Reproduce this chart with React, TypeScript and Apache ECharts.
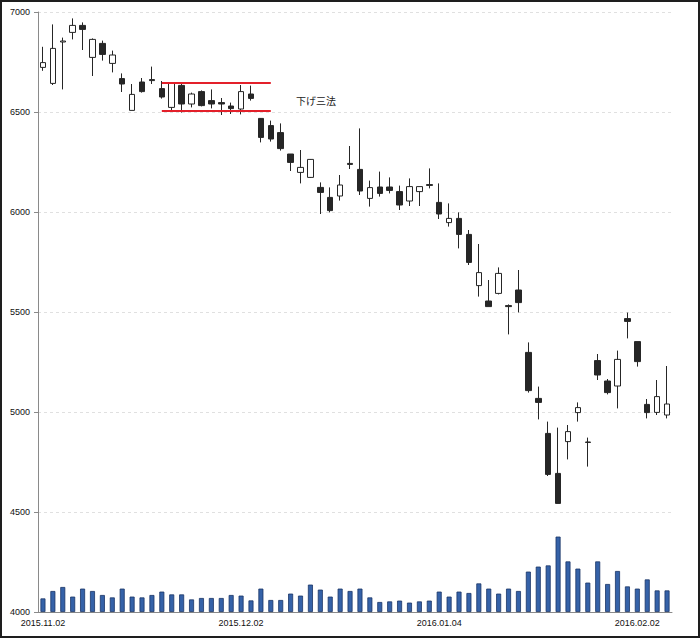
import React, { useEffect, useRef } from "react";
import * as echarts from "echarts";

const dates = [
  "2015.11.02", "2015.11.04", "2015.11.05", "2015.11.06", "2015.11.09", "2015.11.10", "2015.11.11", "2015.11.12", "2015.11.13", "2015.11.16",
  "2015.11.17", "2015.11.18", "2015.11.19", "2015.11.20", "2015.11.24", "2015.11.25", "2015.11.26", "2015.11.27", "2015.11.30", "2015.12.01",
  "2015.12.02", "2015.12.03", "2015.12.04", "2015.12.07", "2015.12.08", "2015.12.09", "2015.12.10", "2015.12.11", "2015.12.14", "2015.12.15",
  "2015.12.16", "2015.12.17", "2015.12.18", "2015.12.21", "2015.12.22", "2015.12.24", "2015.12.25", "2015.12.28", "2015.12.29", "2015.12.30",
  "2016.01.04", "2016.01.05", "2016.01.06", "2016.01.07", "2016.01.08", "2016.01.12", "2016.01.13", "2016.01.14", "2016.01.15", "2016.01.18",
  "2016.01.19", "2016.01.20", "2016.01.21", "2016.01.22", "2016.01.25", "2016.01.26", "2016.01.27", "2016.01.28", "2016.01.29", "2016.02.01",
  "2016.02.02", "2016.02.03", "2016.02.04", "2016.02.05",
];

const opens = [
  6723, 6643, 6850, 6898, 6933, 6773, 6843, 6743, 6667, 6508,
  6650, 6662, 6617, 6523, 6633, 6540, 6602, 6557, 6547, 6530,
  6515, 6590, 6468, 6432, 6397, 6290, 6198, 6173, 6123, 6073,
  6080, 6243, 6213, 6068, 6125, 6125, 6102, 6055, 6102, 6137,
  6048, 5947, 5968, 5888, 5632, 5555, 5593, 5532, 5610, 5298,
  5068, 4893, 4693, 4852, 4997, 4850, 5257, 5155, 5130, 5467,
  5352, 5038, 4998, 4985,
];
const closes = [
  6747, 6818, 6855, 6933, 6913, 6863, 6788, 6785, 6640, 6588,
  6602, 6657, 6575, 6643, 6540, 6590, 6532, 6540, 6540, 6517,
  6602, 6568, 6373, 6365, 6317, 6248, 6223, 6263, 6098, 6007,
  6135, 6238, 6105, 6122, 6093, 6108, 6035, 6127, 6127, 6133,
  5990, 5968, 5888, 5748, 5697, 5527, 5693, 5527, 5547, 5107,
  5048, 4688, 4543, 4902, 5022, 4848, 5185, 5097, 5263, 5453,
  5252, 4997, 5077, 5040,
];
const lows = [
  6706, 6635, 6613, 6863, 6810, 6680, 6757, 6698, 6600, 6508,
  6597, 6640, 6567, 6510, 6497, 6523, 6528, 6518, 6485, 6490,
  6488, 6557, 6348, 6352, 6307, 6205, 6143, 6170, 5990, 5998,
  6057, 6215, 6085, 6027, 6077, 6093, 6010, 6030, 6030, 6118,
  5965, 5927, 5818, 5735, 5577, 5527, 5588, 5388, 5498, 5097,
  4963, 4680, 4543, 4763, 4952, 4727, 5160, 5088, 5018, 5368,
  5227, 4968, 4985, 4968,
];
const highs = [
  6826, 6938, 6872, 6968, 6948, 6868, 6857, 6807, 6693, 6640,
  6670, 6727, 6655, 6650, 6645, 6597, 6608, 6613, 6570, 6547,
  6635, 6632, 6470, 6457, 6443, 6290, 6310, 6265, 6148, 6123,
  6185, 6330, 6418, 6157, 6202, 6173, 6132, 6168, 6127, 6218,
  6143, 6043, 5998, 5910, 5840, 5660, 5723, 5538, 5710, 5348,
  5127, 4952, 4922, 4935, 5048, 4872, 5290, 5165, 5307, 5497,
  5352, 5065, 5160, 5230,
];
const volumes = [
  68, 105, 125, 77, 117, 105, 85, 73, 117, 77,
  73, 85, 102, 88, 88, 63, 70, 70, 70, 85,
  82, 58, 117, 60, 60, 92, 82, 137, 112, 77,
  117, 105, 117, 73, 50, 53, 57, 47, 53, 57,
  102, 77, 102, 95, 143, 117, 92, 117, 105, 202,
  227, 233, 377, 253, 217, 147, 253, 140, 205, 128,
  117, 163, 108, 108,
];

const priceTicks = { min: 4000, max: 7000, interval: 500 };
const patternLabel = "下げ三法";
const patternTop = 6645;
const patternBottom = 6507;
const patternStart = 12;
const patternEnd = 23;

export default function App() {
  const ref = useRef<HTMLDivElement>(null);
  useEffect(() => {
    if (!ref.current) return;
    const chart = echarts.init(ref.current, null, { renderer: "svg" });
    const candleData = opens.map((o, i) => [o, closes[i], lows[i], highs[i]]);
    const redLine = { color: "#e3202a", width: 2, type: "solid" as const };
    chart.setOption({
      animation: false,
      backgroundColor: "#fff",
      grid: { left: 38, top: 12, width: 634, height: 600 },
      xAxis: {
        type: "category",
        data: dates,
        boundaryGap: true,
        axisLine: { lineStyle: { color: "#8a8a8a", width: 1 } },
        axisTick: { interval: 9, length: 4, lineStyle: { color: "#8a8a8a" } },
        axisLabel: {
          interval: 19,
          color: "#111",
          fontSize: 9,
          fontFamily: "Liberation Sans, Arial, sans-serif",
          margin: 6,
        },
        splitLine: { show: false },
      },
      yAxis: [
        {
          type: "value",
          min: priceTicks.min,
          max: priceTicks.max,
          interval: priceTicks.interval,
          axisLine: { show: true, lineStyle: { color: "#8a8a8a", width: 1 } },
          axisTick: { show: true, length: 4, lineStyle: { color: "#8a8a8a" } },
          axisLabel: {
            color: "#111",
            fontSize: 9,
            fontFamily: "Liberation Sans, Arial, sans-serif",
            margin: 8,
            formatter: (v: number) => String(v),
          },
          splitLine: { show: true, lineStyle: { color: "#e0e0e0", type: [3, 3], width: 1 } },
        },
        {
          type: "value",
          min: 0,
          max: 3000,
          show: false,
          splitLine: { show: false },
        },
      ],
      series: [
        {
          type: "bar",
          yAxisIndex: 1,
          data: volumes,
          barWidth: 5,
          itemStyle: { color: "#3562a8", borderColor: "#1b3566", borderWidth: 0.8 },
          z: 1,
        },
        {
          type: "candlestick",
          yAxisIndex: 0,
          data: candleData,
          barWidth: 6,
          itemStyle: {
            color: "#ffffff",
            color0: "#262626",
            borderColor: "#262626",
            borderColor0: "#262626",
            borderWidth: 1,
          },
          z: 3,
          markLine: {
            symbol: ["none", "none"],
            silent: true,
            label: { show: false },
            lineStyle: redLine,
            data: [
              [
                { coord: [patternStart, patternTop] },
                { coord: [patternEnd, patternTop] },
              ],
              [
                { coord: [patternStart, patternBottom] },
                { coord: [patternEnd, patternBottom] },
              ],
            ],
          },
        },
      ],
      graphic: [
        {
          type: "text",
          left: 296,
          top: 95,
          style: {
            text: patternLabel,
            fontSize: 10,
            fill: "#222",
            fontFamily: "Noto Sans CJK JP, sans-serif",
          },
        },
        {
          type: "rect",
          shape: { x: 1, y: 1, width: 698, height: 636 },
          style: { fill: "none", stroke: "#1e1e1e", lineWidth: 2 },
          silent: true,
        },
      ],
    });
    return () => chart.dispose();
  }, []);
  return (
    <div
      ref={ref}
      style={{ position: "absolute", left: 0, top: 0, width: 700, height: 638 }}
    />
  );
}
